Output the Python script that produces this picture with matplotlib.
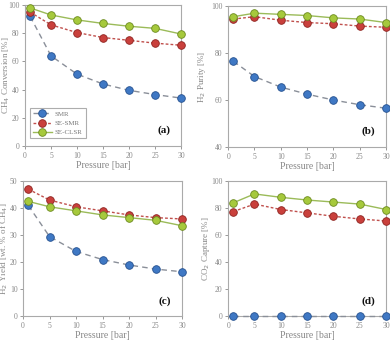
import matplotlib
matplotlib.use("Agg")
import matplotlib.pyplot as plt

pressure = [1, 5, 10, 15, 20, 25, 30]
series_names = ["SMR", "SE-SMR", "SE-CLSR"]

conv_smr = [92, 64, 51, 44, 39.5, 36.5, 34]
conv_sesmr = [95, 86, 80.5, 77, 75, 73, 71.5]
conv_seclsr = [98, 93, 89.5, 87, 85, 83.5, 79.5]

pur_smr = [76.5, 70, 65.5, 62.5, 60, 58, 56.5]
pur_sesmr = [94.5, 95.5, 94, 93, 92.5, 91.5, 91]
pur_seclsr = [95.5, 97, 96.5, 96, 95, 94.5, 93]

yld_smr = [41, 29.5, 24, 21, 19, 17.5, 16.5]
yld_sesmr = [47, 43, 40.5, 39, 37.5, 36.5, 36]
yld_seclsr = [42.5, 40.5, 39, 37.5, 36.5, 35.5, 33.5]

cap_smr = [0, 0, 0, 0, 0, 0, 0]
cap_sesmr = [77.5, 83, 79, 76.5, 74, 72, 70.5]
cap_seclsr = [84, 90.5, 88, 86, 84.5, 83, 79]

plt.rcParams['font.family'] = ['Liberation Serif', 'DejaVu Serif']

fig = plt.figure(figsize=(3.9, 3.41), dpi=100)

styles = [
    dict(color="#8a8f99", ls=(0, (4, 3)), lw=1.0, mfc="#3f78c4", mec="#24508f"),
    dict(color="#c0504d", ls=(0, (2, 1.5)), lw=1.0, mfc="#c9403c", mec="#8e2320"),
    dict(color="#9bbb59", ls="-", lw=1.0, mfc="#a6c93c", mec="#6b8a1e"),
]

panels = [
    ([0.064, 0.572, 0.400, 0.413], (conv_smr, conv_sesmr, conv_seclsr), (0, 100, 20),
     "CH$_4$ Conversion [%]", "(a)", -0.085),
    ([0.585, 0.569, 0.405, 0.413], (pur_smr, pur_sesmr, pur_seclsr), (40, 100, 20),
     "H$_2$ Purity [%]", "(b)", -0.125),
    ([0.059, 0.072, 0.408, 0.397], (yld_smr, yld_sesmr, yld_seclsr), (0, 50, 10),
     "H$_2$ Yield [wt. % of CH$_4$]", "(c)", -0.08),
    ([0.585, 0.072, 0.405, 0.397], (cap_smr, cap_sesmr, cap_seclsr), (0, 100, 20),
     "CO$_2$ Capture [%]", "(d)", -0.105),
]

for i, (pos, data, (ymin, ymax, ystep), ylabel, tag, lx) in enumerate(panels):
    ax = fig.add_axes(pos)
    for name, vals, st in zip(series_names, data, styles):
        ax.plot(pressure, vals, color=st["color"], ls=st["ls"], lw=st["lw"],
                marker="o", ms=5.5, mfc=st["mfc"], mec=st["mec"], mew=0.6,
                label=name, clip_on=False, zorder=3)
    ax.set_xlim(0, 30)
    ax.set_ylim(ymin, ymax)
    ax.set_xticks(range(0, 31, 5))
    ax.set_yticks(range(ymin, ymax + 1, ystep))
    ax.tick_params(labelsize=5.5, colors="#888888", length=2, width=0.6,
                   labelcolor="#888888", pad=2)
    for s in ax.spines.values():
        s.set_color("#aaaaaa")
        s.set_linewidth(0.8)
    ax.set_xlabel("Pressure [bar]", fontsize=7, color="#888888", labelpad=1)
    ax.set_ylabel(ylabel, fontsize=6.5, color="#888888")
    ax.yaxis.set_label_coords(lx, 0.5)
    ax.text(0.93, 0.08, tag, transform=ax.transAxes, ha="right", va="bottom",
            fontsize=8, fontweight="bold", color="#111111")
    if i == 0:
        leg = ax.legend(loc="lower left", bbox_to_anchor=(0.01, 0.03), fontsize=5,
                        frameon=True, fancybox=False, handlelength=2.8,
                        borderpad=0.4, labelspacing=0.5, handletextpad=0.4,
                        edgecolor="#999999", labelcolor="#777777")
        leg.get_frame().set_linewidth(0.8)

fig.savefig("out.png", dpi=100)
